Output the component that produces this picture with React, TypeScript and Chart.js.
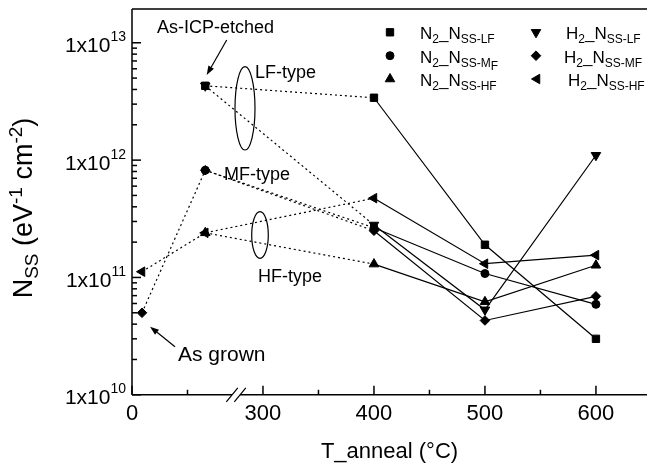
import React, { useEffect, useRef } from 'react';
import { Chart, registerables } from 'chart.js';
import { drawPoint } from 'chart.js/helpers';

Chart.register(...registerables);

const W = 647;
const H = 464;
const FONT = '"Liberation Sans", Arial, Helvetica, sans-serif';

// Sample temperatures (°C). The two un-annealed samples (as grown, as-ICP-etched)
// sit on the compressed segment left of the axis break.
const temperatures = [18, 132, 400, 500, 600];

// N_SS values (eV^-1 cm^-2), one entry per temperature (null = no point)
const n2LF = [null, 4.3e12, 3.4e12, 1.9e11, 3.0e10];
const n2MF = [null, 8.2e11, 2.65e11, 1.08e11, 5.9e10];
const n2HF = [null, 2.4e11, 1.3e11, 6.2e10, 1.27e11];
const h2LF = [null, 4.3e12, 2.8e11, 5.3e10, 1.1e12];
const h2MF = [5.0e10, 8.2e11, 2.5e11, 4.3e10, 6.9e10];
const h2HF = [1.12e11, 2.4e11, 4.74e11, 1.31e11, 1.55e11];

const seriesNames = ['N2_NSS-LF', 'N2_NSS-MF', 'N2_NSS-HF', 'H2_NSS-LF', 'H2_NSS-MF', 'H2_NSS-HF'];

// x axis ticks
const xTickValues = [0, 100, 300, 350, 400, 450, 500, 550, 600];
const xTickLabels = ['0', '', '300', '', '400', '', '500', '', '600'];
// y axis decades
const yDecadeExponents = [10, 11, 12, 13];

// Broken-axis mapping
const BREAK_LIMIT = 200;
const LEFT_ORIGIN = 182;
const LEFT_COMPRESS = 0.5;
const BREAK_POS = 275.7;
const X_MIN = 182;
const X_MAX = 646;
const Y_MIN = 1e10;
const Y_MAX = 1.94e13;

const toAxis = (t: number) => (t < BREAK_LIMIT ? LEFT_ORIGIN + t * LEFT_COMPRESS : t);

const seriesValues = [n2LF, n2MF, n2HF, h2LF, h2MF, h2HF];
const markerStyles = [
  { pointStyle: 'rect', radius: 5.2, rotation: 0 },
  { pointStyle: 'circle', radius: 4, rotation: 0 },
  { pointStyle: 'triangle', radius: 5.5, rotation: 0 },
  { pointStyle: 'triangle', radius: 5.5, rotation: 180 },
  { pointStyle: 'rectRot', radius: 4.8, rotation: 0 },
  { pointStyle: 'triangle', radius: 5.5, rotation: 270 },
];

type Part = { t: string; size: number; dy?: number };

function richWidth(ctx: CanvasRenderingContext2D, parts: Part[]) {
  let w = 0;
  for (const p of parts) {
    ctx.font = `${p.size}px ${FONT}`;
    w += ctx.measureText(p.t).width;
  }
  return w;
}

function drawRich(ctx: CanvasRenderingContext2D, parts: Part[], x: number, y: number, align: 'left' | 'center' | 'right') {
  const w = richWidth(ctx, parts);
  let cx = align === 'left' ? x : align === 'center' ? x - w / 2 : x - w;
  ctx.textAlign = 'left';
  ctx.textBaseline = 'alphabetic';
  for (const p of parts) {
    ctx.font = `${p.size}px ${FONT}`;
    ctx.fillText(p.t, cx, y + (p.dy || 0));
    cx += ctx.measureText(p.t).width;
  }
}

function arrow(ctx: CanvasRenderingContext2D, x1: number, y1: number, x2: number, y2: number) {
  const ang = Math.atan2(y2 - y1, x2 - x1);
  const len = 9;
  const hw = 3.2;
  const bx = x2 - Math.cos(ang) * len;
  const by = y2 - Math.sin(ang) * len;
  ctx.lineWidth = 1.2;
  ctx.beginPath();
  ctx.moveTo(x1, y1);
  ctx.lineTo(bx, by);
  ctx.stroke();
  ctx.beginPath();
  ctx.moveTo(x2, y2);
  ctx.lineTo(bx - Math.sin(ang) * hw, by + Math.cos(ang) * hw);
  ctx.lineTo(bx + Math.sin(ang) * hw, by - Math.cos(ang) * hw);
  ctx.closePath();
  ctx.fill();
}

const decorPlugin = {
  id: 'decor',
  afterDraw(chart: any) {
    const { ctx, chartArea: a, scales } = chart;
    const xs = scales.x;
    const ys = scales.y;
    ctx.save();
    ctx.strokeStyle = '#000';
    ctx.fillStyle = '#000';

    // axes frame
    const bx = xs.getPixelForValue(BREAK_POS);
    ctx.lineWidth = 1.5;
    ctx.beginPath();
    ctx.moveTo(a.left, a.top);
    ctx.lineTo(a.left, a.bottom);
    ctx.moveTo(a.left, a.top);
    ctx.lineTo(a.right, a.top);
    ctx.moveTo(a.left, a.bottom);
    ctx.lineTo(bx - 4, a.bottom);
    ctx.moveTo(bx + 4, a.bottom);
    ctx.lineTo(a.right, a.bottom);
    ctx.stroke();
    // break slashes
    ctx.lineWidth = 1.2;
    ctx.beginPath();
    ctx.moveTo(bx - 9.7, a.bottom + 7);
    ctx.lineTo(bx + 1.8, a.bottom - 7);
    ctx.moveTo(bx - 1.7, a.bottom + 7);
    ctx.lineTo(bx + 9.8, a.bottom - 7);
    ctx.stroke();

    // x ticks + labels
    ctx.lineWidth = 1.5;
    xTickValues.forEach((v, i) => {
      const px = xs.getPixelForValue(toAxis(v));
      const major = xTickLabels[i] !== '';
      ctx.beginPath();
      ctx.moveTo(px, a.bottom);
      ctx.lineTo(px, a.bottom - (major ? 9 : 5));
      ctx.stroke();
      if (major) {
        ctx.font = `22px ${FONT}`;
        ctx.textAlign = 'center';
        ctx.textBaseline = 'alphabetic';
        ctx.fillText(xTickLabels[i], px, 420);
      }
    });

    // y ticks + labels
    yDecadeExponents.forEach((d) => {
      for (let k = 1; k <= 9; k++) {
        const v = k * Math.pow(10, d);
        if (v > Y_MAX) break;
        const py = ys.getPixelForValue(v);
        ctx.beginPath();
        ctx.moveTo(a.left, py);
        ctx.lineTo(a.left + (k === 1 ? 9 : 5), py);
        ctx.stroke();
      }
      const py = ys.getPixelForValue(Math.pow(10, d));
      drawRich(ctx, [
        { t: '1x10', size: 21, dy: 9.5 },
        { t: String(d), size: 14, dy: -1.5 },
      ], 126, py, 'right');
    });

    // axis titles
    drawRich(ctx, [{ t: 'T_anneal (°C)', size: 22 }], (a.left + a.right) / 2, 458, 'center');
    ctx.save();
    ctx.translate(32, 208);
    ctx.rotate(-Math.PI / 2);
    drawRich(ctx, [
      { t: 'N', size: 27 },
      { t: 'SS', size: 19, dy: 6 },
      { t: ' (eV', size: 27 },
      { t: '-1', size: 19, dy: -10 },
      { t: ' cm', size: 27 },
      { t: '-2', size: 19, dy: -10 },
      { t: ')', size: 27 },
    ], 0, 0, 'center');
    ctx.restore();

    // legend
    const legendRows = [
      { x: 390, tx: 420, y: 39.3, mk: 0, sub: [{ t: 'SS-LF', size: 12, dy: 4 }] },
      { x: 390, tx: 420, y: 62.7, mk: 1, sub: [{ t: 'SS-M', size: 12, dy: 4 }, { t: 'F', size: 12, dy: 7 }] },
      { x: 390, tx: 420, y: 86, mk: 2, sub: [{ t: 'SS-HF', size: 12, dy: 4 }] },
      { x: 536, tx: 566, y: 39.3, mk: 3, sub: [{ t: 'SS-LF', size: 12, dy: 4 }] },
      { x: 536, tx: 564, y: 62.7, mk: 4, sub: [{ t: 'SS-MF', size: 12, dy: 4 }] },
      { x: 537, tx: 568, y: 86, mk: 5, sub: [{ t: 'SS-HF', size: 12, dy: 4 }] },
    ];
    legendRows.forEach((r) => {
      const m = markerStyles[r.mk];
      const prefix = seriesNames[r.mk].slice(0, 1);
      ctx.lineWidth = 1;
      drawPoint(ctx, { pointStyle: m.pointStyle, radius: m.radius, rotation: m.rotation, borderWidth: 1 } as any, r.x, r.y - 7);
      drawRich(ctx, [
        { t: prefix, size: 17 },
        { t: '2', size: 12, dy: 4 },
        { t: '_N', size: 17 },
        ...r.sub,
      ], r.tx, r.y, 'left');
    });

    // annotations
    drawRich(ctx, [{ t: 'As-ICP-etched', size: 18 }], 157, 33.3, 'left');
    arrow(ctx, 226.7, 40, 206.7, 75);
    drawRich(ctx, [{ t: 'LF-type', size: 18 }], 255, 78, 'left');
    drawRich(ctx, [{ t: 'MF-type', size: 18 }], 224, 180, 'left');
    drawRich(ctx, [{ t: 'HF-type', size: 18 }], 258, 281.7, 'left');
    drawRich(ctx, [{ t: 'As grown', size: 21 }], 178, 361, 'left');
    arrow(ctx, 175, 346.7, 150, 326.7);

    ctx.lineWidth = 1.2;
    ctx.beginPath();
    ctx.ellipse(245, 108.3, 10, 41.7, 0, 0, Math.PI * 2);
    ctx.stroke();
    ctx.beginPath();
    ctx.ellipse(260, 235, 8.3, 23.3, 0, 0, Math.PI * 2);
    ctx.stroke();

    ctx.restore();
  },
};

export default function App() {
  const ref = useRef<HTMLCanvasElement | null>(null);

  useEffect(() => {
    if (!ref.current) return;
    const datasets = seriesValues.map((vals, si) => {
      const m = markerStyles[si];
      return {
        label: seriesNames[si],
        data: temperatures.map((t, i) => ({ x: toAxis(t), y: vals[i] })),
        borderColor: '#000',
        backgroundColor: '#000',
        borderWidth: 1.2,
        pointStyle: m.pointStyle,
        pointRadius: m.radius,
        pointRotation: m.rotation,
        pointBorderWidth: 1,
        pointBorderColor: '#000',
        pointBackgroundColor: '#000',
        showLine: true,
        spanGaps: false,
        tension: 0,
        segment: {
          borderDash: (c: any) => (c.p0.parsed.x < 300 ? [2, 3] : undefined),
        },
      };
    });

    const chart = new Chart(ref.current, {
      type: 'line',
      data: { datasets } as any,
      options: {
        animation: false,
        responsive: false,
        devicePixelRatio: 1,
        layout: { autoPadding: false, padding: { left: 132, right: 0, top: 9, bottom: H - 394.8 } },
        scales: {
          x: { type: 'linear', display: false, min: X_MIN, max: X_MAX },
          y: { type: 'logarithmic', display: false, min: Y_MIN, max: Y_MAX },
        },
        plugins: { legend: { display: false }, tooltip: { enabled: false } },
      } as any,
      plugins: [decorPlugin],
    });
    return () => chart.destroy();
  }, []);

  return (
    <div style={{ position: 'absolute', left: 0, top: 0, width: W, height: H, background: '#fff' }}>
      <canvas ref={ref} width={W} height={H} style={{ display: 'block' }} />
    </div>
  );
}
